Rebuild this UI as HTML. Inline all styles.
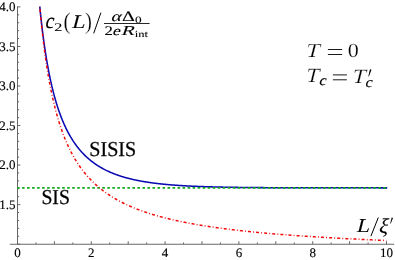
<!DOCTYPE html>
<html><head><meta charset="utf-8"><title>c2(L) plot</title><style>
html,body{margin:0;padding:0;background:#fff;}
body{width:395px;height:260px;position:relative;overflow:hidden;font-family:"Liberation Serif",serif;}
</style></head><body>
<svg width="395" height="260" viewBox="0 0 395 260" style="position:absolute;left:0;top:0;will-change:transform;text-rendering:geometricPrecision">
<g stroke="#686868" stroke-width="1" fill="none">
<path d="M9.8,244.25 H394.2"/>
<path d="M17.5,244.25 V6.4"/>
<path d="M17.50,244.25 v-3.0"/>
<path d="M35.95,244.25 v-1.8"/>
<path d="M54.40,244.25 v-3.0"/>
<path d="M72.85,244.25 v-1.8"/>
<path d="M91.30,244.25 v-3.0"/>
<path d="M109.75,244.25 v-1.8"/>
<path d="M128.20,244.25 v-3.0"/>
<path d="M146.65,244.25 v-1.8"/>
<path d="M165.10,244.25 v-3.0"/>
<path d="M183.55,244.25 v-1.8"/>
<path d="M202.00,244.25 v-3.0"/>
<path d="M220.45,244.25 v-1.8"/>
<path d="M238.90,244.25 v-3.0"/>
<path d="M257.35,244.25 v-1.8"/>
<path d="M275.80,244.25 v-3.0"/>
<path d="M294.25,244.25 v-1.8"/>
<path d="M312.70,244.25 v-3.0"/>
<path d="M331.15,244.25 v-1.8"/>
<path d="M349.60,244.25 v-3.0"/>
<path d="M368.05,244.25 v-1.8"/>
<path d="M386.50,244.25 v-3.0"/>
<path d="M17.5,244.15 h2.9"/>
<path d="M17.5,236.24 h1.7"/>
<path d="M17.5,228.33 h1.7"/>
<path d="M17.5,220.43 h1.7"/>
<path d="M17.5,212.52 h1.7"/>
<path d="M17.5,204.61 h2.9"/>
<path d="M17.5,196.70 h1.7"/>
<path d="M17.5,188.79 h1.7"/>
<path d="M17.5,180.89 h1.7"/>
<path d="M17.5,172.98 h1.7"/>
<path d="M17.5,165.07 h2.9"/>
<path d="M17.5,157.16 h1.7"/>
<path d="M17.5,149.25 h1.7"/>
<path d="M17.5,141.35 h1.7"/>
<path d="M17.5,133.44 h1.7"/>
<path d="M17.5,125.53 h2.9"/>
<path d="M17.5,117.62 h1.7"/>
<path d="M17.5,109.71 h1.7"/>
<path d="M17.5,101.81 h1.7"/>
<path d="M17.5,93.90 h1.7"/>
<path d="M17.5,85.99 h2.9"/>
<path d="M17.5,78.08 h1.7"/>
<path d="M17.5,70.17 h1.7"/>
<path d="M17.5,62.27 h1.7"/>
<path d="M17.5,54.36 h1.7"/>
<path d="M17.5,46.45 h2.9"/>
<path d="M17.5,38.54 h1.7"/>
<path d="M17.5,30.63 h1.7"/>
<path d="M17.5,22.73 h1.7"/>
<path d="M17.5,14.82 h1.7"/>
<path d="M17.5,6.91 h2.9"/>
</g>
<path d="M39.79,6.60 L39.89,7.61 L40.39,12.55 L40.89,17.29 L41.39,21.83 L41.90,26.19 L42.40,30.37 L42.90,34.38 L43.40,38.24 L43.91,41.96 L44.41,45.53 L44.91,48.97 L45.41,52.29 L45.92,55.49 L46.42,58.58 L46.92,61.57 L47.43,64.45 L47.93,67.23 L48.43,69.93 L48.93,72.53 L49.44,75.06 L49.94,77.50 L50.44,79.87 L50.94,82.17 L51.45,84.39 L51.95,86.55 L52.45,88.65 L52.95,90.68 L53.46,92.66 L53.96,94.58 L54.46,96.45 L54.96,98.27 L55.47,100.03 L55.97,101.75 L56.47,103.42 L56.98,105.05 L57.48,106.63 L57.98,108.18 L58.48,109.68 L58.99,111.15 L59.49,112.58 L59.99,113.97 L60.49,115.33 L61.00,116.65 L61.50,117.95 L62.00,119.21 L62.50,120.44 L63.01,121.65 L63.51,122.82 L64.01,123.97 L64.51,125.09 L65.02,126.19 L65.52,127.26 L66.02,128.31 L66.53,129.34 L67.03,130.34 L67.53,131.32 L68.03,132.28 L68.54,133.22 L69.04,134.14 L69.54,135.04 L70.04,135.92 L70.55,136.78 L71.05,137.62 L71.55,138.45 L72.05,139.26 L72.56,140.05 L73.06,140.83 L73.56,141.59 L74.06,142.34 L74.57,143.07 L75.07,143.79 L75.57,144.49 L76.08,145.18 L76.58,145.86 L77.08,146.52 L77.58,147.17 L78.09,147.81 L78.59,148.44 L79.09,149.05 L79.59,149.66 L80.10,150.25 L80.60,150.83 L81.10,151.40 L81.60,151.96 L82.11,152.51 L82.61,153.05 L83.11,153.58 L83.61,154.10 L84.12,154.61 L84.62,155.12 L85.12,155.61 L85.62,156.10 L86.13,156.57 L86.63,157.04 L87.13,157.50 L87.64,157.95 L88.14,158.40 L88.64,158.84 L89.14,159.27 L89.65,159.69 L90.15,160.10 L90.65,160.51 L91.15,160.91 L91.66,161.31 L92.16,161.70 L92.66,162.08 L93.16,162.45 L93.67,162.82 L94.17,163.19 L94.67,163.54 L95.17,163.89 L95.68,164.24 L96.18,164.58 L96.68,164.92 L97.19,165.25 L97.69,165.57 L98.19,165.89 L98.69,166.20 L99.20,166.51 L99.70,166.82 L100.20,167.12 L100.70,167.41 L101.21,167.70 L101.71,167.99 L102.21,168.27 L102.71,168.54 L103.22,168.82 L103.72,169.09 L104.22,169.35 L104.72,169.61 L105.23,169.87 L105.73,170.12 L106.23,170.37 L106.74,170.61 L107.24,170.85 L107.74,171.09 L108.24,171.32 L108.75,171.55 L109.25,171.78 L109.75,172.01 L110.25,172.23 L110.76,172.44 L111.26,172.66 L111.76,172.87 L112.26,173.07 L112.77,173.28 L113.27,173.48 L113.77,173.68 L114.27,173.87 L114.78,174.07 L115.28,174.26 L115.78,174.44 L116.29,174.63 L116.79,174.81 L117.29,174.99 L117.79,175.17 L118.30,175.34 L118.80,175.51 L119.30,175.68 L119.80,175.85 L120.31,176.01 L120.81,176.17 L121.31,176.33 L121.81,176.49 L122.32,176.64 L122.82,176.80 L123.32,176.95 L123.82,177.10 L124.33,177.24 L124.83,177.39 L125.33,177.53 L125.83,177.67 L126.34,177.81 L126.84,177.95 L127.34,178.08 L127.85,178.21 L128.35,178.34 L128.85,178.47 L129.35,178.60 L129.86,178.73 L130.36,178.85 L130.86,178.97 L131.36,179.09 L131.87,179.21 L132.37,179.33 L132.87,179.44 L133.37,179.56 L133.88,179.67 L134.38,179.78 L134.88,179.89 L135.38,180.00 L135.89,180.10 L136.39,180.21 L136.89,180.31 L137.40,180.41 L137.90,180.51 L138.40,180.61 L138.90,180.71 L139.41,180.81 L139.91,180.90 L140.41,180.99 L140.91,181.09 L141.42,181.18 L141.92,181.27 L142.42,181.36 L142.92,181.44 L143.43,181.53 L143.93,181.62 L144.43,181.70 L144.93,181.78 L145.44,181.86 L145.94,181.95 L146.44,182.02 L146.95,182.10 L147.45,182.18 L147.95,182.26 L148.45,182.33 L148.96,182.41 L149.46,182.48 L149.96,182.55 L150.46,182.62 L150.97,182.69 L151.47,182.76 L151.97,182.83 L152.47,182.90 L152.98,182.97 L153.48,183.03 L153.98,183.10 L154.48,183.16 L154.99,183.23 L155.49,183.29 L155.99,183.35 L156.50,183.41 L157.00,183.47 L157.50,183.53 L158.00,183.59 L158.51,183.65 L159.01,183.70 L159.51,183.76 L160.01,183.81 L160.52,183.87 L161.02,183.92 L161.52,183.98 L162.02,184.03 L162.53,184.08 L163.03,184.13 L163.53,184.18 L164.03,184.23 L164.54,184.28 L165.04,184.33 L165.54,184.38 L166.04,184.42 L166.55,184.47 L167.05,184.51 L167.55,184.56 L168.06,184.60 L168.56,184.65 L169.06,184.69 L169.56,184.74 L170.07,184.78 L170.57,184.82 L171.07,184.86 L171.57,184.90 L172.08,184.94 L172.58,184.98 L173.08,185.02 L173.58,185.06 L174.09,185.10 L174.59,185.13 L175.09,185.17 L175.59,185.21 L176.10,185.24 L176.60,185.28 L177.10,185.31 L177.61,185.35 L178.11,185.38 L178.61,185.42 L179.11,185.45 L179.62,185.48 L180.12,185.51 L180.62,185.55 L181.12,185.58 L181.63,185.61 L182.13,185.64 L182.63,185.67 L183.13,185.70 L183.64,185.73 L184.14,185.76 L184.64,185.79 L185.14,185.82 L185.65,185.84 L186.15,185.87 L186.65,185.90 L187.16,185.93 L187.66,185.95 L188.16,185.98 L188.66,186.00 L189.17,186.03 L189.67,186.05 L190.17,186.08 L190.67,186.10 L191.18,186.13 L191.68,186.15 L192.18,186.17 L192.68,186.20 L193.19,186.22 L193.69,186.24 L194.19,186.27 L194.69,186.29 L195.20,186.31 L195.70,186.33 L196.20,186.35 L196.71,186.37 L197.21,186.39 L197.71,186.41 L198.21,186.43 L198.72,186.45 L199.22,186.47 L199.72,186.49 L200.22,186.51 L200.73,186.53 L201.23,186.55 L201.73,186.57 L202.23,186.58 L202.74,186.60 L203.24,186.62 L203.74,186.64 L204.24,186.65 L204.75,186.67 L205.25,186.69 L205.75,186.70 L206.25,186.72 L206.76,186.73 L207.26,186.75 L207.76,186.76 L208.27,186.78 L208.77,186.80 L209.27,186.81 L209.77,186.82 L210.28,186.84 L210.78,186.85 L211.28,186.87 L211.78,186.88 L212.29,186.89 L212.79,186.91 L213.29,186.92 L213.79,186.93 L214.30,186.95 L214.80,186.96 L215.30,186.97 L215.80,186.99 L216.31,187.00 L216.81,187.01 L217.31,187.02 L217.82,187.03 L218.32,187.04 L218.82,187.06 L219.32,187.07 L219.83,187.08 L220.33,187.09 L220.83,187.10 L221.33,187.11 L221.84,187.12 L222.34,187.13 L222.84,187.14 L223.34,187.15 L223.85,187.16 L224.35,187.17 L224.85,187.18 L225.35,187.19 L225.86,187.20 L226.36,187.21 L226.86,187.22 L227.37,187.23 L227.87,187.24 L228.37,187.25 L228.87,187.25 L229.38,187.26 L229.88,187.27 L230.38,187.28 L230.88,187.29 L231.39,187.30 L231.89,187.30 L232.39,187.31 L232.89,187.32 L233.40,187.33 L233.90,187.34 L234.40,187.34 L234.90,187.35 L235.41,187.36 L235.91,187.36 L236.41,187.37 L236.92,187.38 L237.42,187.39 L237.92,187.39 L238.42,187.40 L238.93,187.41 L239.43,187.41 L239.93,187.42 L240.43,187.42 L240.94,187.43 L241.44,187.44 L241.94,187.44 L242.44,187.45 L242.95,187.45 L243.45,187.46 L243.95,187.47 L244.45,187.47 L244.96,187.48 L245.46,187.48 L245.96,187.49 L246.46,187.49 L246.97,187.50 L247.47,187.50 L247.97,187.51 L248.48,187.51 L248.98,187.52 L249.48,187.52 L249.98,187.53 L250.49,187.53 L250.99,187.54 L251.49,187.54 L251.99,187.55 L252.50,187.55 L253.00,187.56 L253.50,187.56 L254.00,187.56 L254.51,187.57 L255.01,187.57 L255.51,187.58 L256.01,187.58 L256.52,187.59 L257.02,187.59 L257.52,187.59 L258.03,187.60 L258.53,187.60 L259.03,187.60 L259.53,187.61 L260.04,187.61 L260.54,187.62 L261.04,187.62 L261.54,187.62 L262.05,187.63 L262.55,187.63 L263.05,187.63 L263.55,187.64 L264.06,187.64 L264.56,187.64 L265.06,187.65 L265.56,187.65 L266.07,187.65 L266.57,187.65 L267.07,187.66 L267.58,187.66 L268.08,187.66 L268.58,187.67 L269.08,187.67 L269.59,187.67 L270.09,187.67 L270.59,187.68 L271.09,187.68 L271.60,187.68 L272.10,187.68 L272.60,187.69 L273.10,187.69 L273.61,187.69 L274.11,187.69 L274.61,187.70 L275.11,187.70 L275.62,187.70 L276.12,187.70 L276.62,187.71 L277.13,187.71 L277.63,187.71 L278.13,187.71 L278.63,187.71 L279.14,187.72 L279.64,187.72 L280.14,187.72 L280.64,187.72 L281.15,187.72 L281.65,187.73 L282.15,187.73 L282.65,187.73 L283.16,187.73 L283.66,187.73 L284.16,187.74 L284.66,187.74 L285.17,187.74 L285.67,187.74 L286.17,187.74 L286.67,187.74 L287.18,187.75 L287.68,187.75 L288.18,187.75 L288.69,187.75 L289.19,187.75 L289.69,187.75 L290.19,187.76 L290.70,187.76 L291.20,187.76 L291.70,187.76 L292.20,187.76 L292.71,187.76 L293.21,187.76 L293.71,187.77 L294.21,187.77 L294.72,187.77 L295.22,187.77 L295.72,187.77 L296.22,187.77 L296.73,187.77 L297.23,187.77 L297.73,187.78 L298.24,187.78 L298.74,187.78 L299.24,187.78 L299.74,187.78 L300.25,187.78 L300.75,187.78 L301.25,187.78 L301.75,187.78 L302.26,187.79 L302.76,187.79 L303.26,187.79 L303.76,187.79 L304.27,187.79 L304.77,187.79 L305.27,187.79 L305.77,187.79 L306.28,187.79 L306.78,187.79 L307.28,187.79 L307.79,187.80 L308.29,187.80 L308.79,187.80 L309.29,187.80 L309.80,187.80 L310.30,187.80 L310.80,187.80 L311.30,187.80 L311.81,187.80 L312.31,187.80 L312.81,187.80 L313.31,187.80 L313.82,187.81 L314.32,187.81 L314.82,187.81 L315.32,187.81 L315.83,187.81 L316.33,187.81 L316.83,187.81 L317.34,187.81 L317.84,187.81 L318.34,187.81 L318.84,187.81 L319.35,187.81 L319.85,187.81 L320.35,187.81 L320.85,187.81 L321.36,187.82 L321.86,187.82 L322.36,187.82 L322.86,187.82 L323.37,187.82 L323.87,187.82 L324.37,187.82 L324.87,187.82 L325.38,187.82 L325.88,187.82 L326.38,187.82 L326.88,187.82 L327.39,187.82 L327.89,187.82 L328.39,187.82 L328.90,187.82 L329.40,187.82 L329.90,187.82 L330.40,187.82 L330.91,187.82 L331.41,187.82 L331.91,187.83 L332.41,187.83 L332.92,187.83 L333.42,187.83 L333.92,187.83 L334.42,187.83 L334.93,187.83 L335.43,187.83 L335.93,187.83 L336.43,187.83 L336.94,187.83 L337.44,187.83 L337.94,187.83 L338.45,187.83 L338.95,187.83 L339.45,187.83 L339.95,187.83 L340.46,187.83 L340.96,187.83 L341.46,187.83 L341.96,187.83 L342.47,187.83 L342.97,187.83 L343.47,187.83 L343.97,187.83 L344.48,187.83 L344.98,187.83 L345.48,187.83 L345.98,187.83 L346.49,187.83 L346.99,187.84 L347.49,187.84 L348.00,187.84 L348.50,187.84 L349.00,187.84 L349.50,187.84 L350.01,187.84 L350.51,187.84 L351.01,187.84 L351.51,187.84 L352.02,187.84 L352.52,187.84 L353.02,187.84 L353.52,187.84 L354.03,187.84 L354.53,187.84 L355.03,187.84 L355.53,187.84 L356.04,187.84 L356.54,187.84 L357.04,187.84 L357.55,187.84 L358.05,187.84 L358.55,187.84 L359.05,187.84 L359.56,187.84 L360.06,187.84 L360.56,187.84 L361.06,187.84 L361.57,187.84 L362.07,187.84 L362.57,187.84 L363.07,187.84 L363.58,187.84 L364.08,187.84 L364.58,187.84 L365.08,187.84 L365.59,187.84 L366.09,187.84 L366.59,187.84 L367.09,187.84 L367.60,187.84 L368.10,187.84 L368.60,187.84 L369.11,187.84 L369.61,187.84 L370.11,187.84 L370.61,187.84 L371.12,187.84 L371.62,187.84 L372.12,187.84 L372.62,187.84 L373.13,187.84 L373.63,187.84 L374.13,187.84 L374.63,187.84 L375.14,187.84 L375.64,187.84 L376.14,187.84 L376.64,187.84 L377.15,187.84 L377.65,187.84 L378.15,187.84 L378.66,187.85 L379.16,187.85 L379.66,187.85 L380.16,187.85 L380.67,187.85 L381.17,187.85 L381.67,187.85 L382.17,187.85 L382.68,187.85 L383.18,187.85 L383.68,187.85 L384.18,187.85 L384.69,187.85 L385.19,187.85 L385.69,187.85 L386.19,187.85 L386.70,187.85 L387.20,187.85" stroke="#0a0ab4" stroke-width="1.55" fill="none"/>
<path d="M17.0,187.9 H387.2" stroke="#14aa1e" stroke-width="1.6" stroke-dasharray="2.6 2.417" fill="none"/>
<path d="M39.73,6.60 L39.88,8.28 L40.38,13.67 L40.88,18.84 L41.38,23.79 L41.88,28.53 L42.38,33.09 L42.88,37.47 L43.39,41.67 L43.89,45.72 L44.39,49.62 L44.89,53.38 L45.39,57.00 L45.89,60.49 L46.39,63.86 L46.90,67.12 L47.40,70.27 L47.90,73.32 L48.40,76.27 L48.90,79.12 L49.40,81.88 L49.90,84.56 L50.41,87.16 L50.91,89.68 L51.41,92.12 L51.91,94.50 L52.41,96.81 L52.91,99.05 L53.41,101.23 L53.92,103.34 L54.42,105.41 L54.92,107.41 L55.42,109.37 L55.92,111.27 L56.42,113.12 L56.92,114.93 L57.43,116.69 L57.93,118.41 L58.43,120.08 L58.93,121.72 L59.43,123.32 L59.93,124.88 L60.43,126.40 L60.94,127.89 L61.44,129.34 L61.94,130.76 L62.44,132.15 L62.94,133.51 L63.44,134.84 L63.94,136.14 L64.45,137.41 L64.95,138.66 L65.45,139.88 L65.95,141.07 L66.45,142.24 L66.95,143.39 L67.45,144.51 L67.96,145.61 L68.46,146.69 L68.96,147.75 L69.46,148.79 L69.96,149.81 L70.46,150.81 L70.96,151.79 L71.47,152.75 L71.97,153.69 L72.47,154.62 L72.97,155.53 L73.47,156.43 L73.97,157.30 L74.47,158.17 L74.97,159.01 L75.48,159.85 L75.98,160.67 L76.48,161.47 L76.98,162.26 L77.48,163.04 L77.98,163.81 L78.48,164.56 L78.99,165.30 L79.49,166.03 L79.99,166.75 L80.49,167.45 L80.99,168.15 L81.49,168.83 L81.99,169.50 L82.50,170.17 L83.00,170.82 L83.50,171.46 L84.00,172.10 L84.50,172.72 L85.00,173.33 L85.50,173.94 L86.01,174.54 L86.51,175.12 L87.01,175.70 L87.51,176.27 L88.01,176.84 L88.51,177.39 L89.01,177.94 L89.52,178.48 L90.02,179.01 L90.52,179.54 L91.02,180.05 L91.52,180.56 L92.02,181.07 L92.52,181.56 L93.03,182.05 L93.53,182.54 L94.03,183.02 L94.53,183.49 L95.03,183.95 L95.53,184.41 L96.03,184.87 L96.54,185.31 L97.04,185.76 L97.54,186.19 L98.04,186.62 L98.54,187.05 L99.04,187.47 L99.54,187.89 L100.05,188.30 L100.55,188.70 L101.05,189.10 L101.55,189.50 L102.05,189.89 L102.55,190.28 L103.05,190.66 L103.56,191.04 L104.06,191.41 L104.56,191.78 L105.06,192.14 L105.56,192.50 L106.06,192.86 L106.56,193.21 L107.07,193.56 L107.57,193.91 L108.07,194.25 L108.57,194.58 L109.07,194.92 L109.57,195.25 L110.07,195.57 L110.57,195.90 L111.08,196.22 L111.58,196.53 L112.08,196.84 L112.58,197.15 L113.08,197.46 L113.58,197.76 L114.08,198.06 L114.59,198.36 L115.09,198.65 L115.59,198.94 L116.09,199.23 L116.59,199.51 L117.09,199.80 L117.59,200.08 L118.10,200.35 L118.60,200.63 L119.10,200.90 L119.60,201.16 L120.10,201.43 L120.60,201.69 L121.10,201.95 L121.61,202.21 L122.11,202.47 L122.61,202.72 L123.11,202.97 L123.61,203.22 L124.11,203.46 L124.61,203.71 L125.12,203.95 L125.62,204.19 L126.12,204.42 L126.62,204.66 L127.12,204.89 L127.62,205.12 L128.12,205.35 L128.63,205.58 L129.13,205.80 L129.63,206.02 L130.13,206.24 L130.63,206.46 L131.13,206.68 L131.63,206.89 L132.14,207.11 L132.64,207.32 L133.14,207.52 L133.64,207.73 L134.14,207.94 L134.64,208.14 L135.14,208.34 L135.65,208.54 L136.15,208.74 L136.65,208.94 L137.15,209.13 L137.65,209.33 L138.15,209.52 L138.65,209.71 L139.16,209.90 L139.66,210.09 L140.16,210.27 L140.66,210.45 L141.16,210.64 L141.66,210.82 L142.16,211.00 L142.67,211.18 L143.17,211.35 L143.67,211.53 L144.17,211.70 L144.67,211.88 L145.17,212.05 L145.67,212.22 L146.18,212.39 L146.68,212.55 L147.18,212.72 L147.68,212.88 L148.18,213.05 L148.68,213.21 L149.18,213.37 L149.68,213.53 L150.19,213.69 L150.69,213.85 L151.19,214.00 L151.69,214.16 L152.19,214.31 L152.69,214.47 L153.19,214.62 L153.70,214.77 L154.20,214.92 L154.70,215.07 L155.20,215.21 L155.70,215.36 L156.20,215.50 L156.70,215.65 L157.21,215.79 L157.71,215.93 L158.21,216.07 L158.71,216.21 L159.21,216.35 L159.71,216.49 L160.21,216.63 L160.72,216.76 L161.22,216.90 L161.72,217.03 L162.22,217.17 L162.72,217.30 L163.22,217.43 L163.72,217.56 L164.23,217.69 L164.73,217.82 L165.23,217.95 L165.73,218.08 L166.23,218.20 L166.73,218.33 L167.23,218.45 L167.74,218.58 L168.24,218.70 L168.74,218.82 L169.24,218.94 L169.74,219.06 L170.24,219.18 L170.74,219.30 L171.25,219.42 L171.75,219.54 L172.25,219.65 L172.75,219.77 L173.25,219.88 L173.75,220.00 L174.25,220.11 L174.76,220.22 L175.26,220.34 L175.76,220.45 L176.26,220.56 L176.76,220.67 L177.26,220.78 L177.76,220.89 L178.27,221.00 L178.77,221.10 L179.27,221.21 L179.77,221.32 L180.27,221.42 L180.77,221.53 L181.27,221.63 L181.78,221.73 L182.28,221.84 L182.78,221.94 L183.28,222.04 L183.78,222.14 L184.28,222.24 L184.78,222.34 L185.28,222.44 L185.79,222.54 L186.29,222.64 L186.79,222.73 L187.29,222.83 L187.79,222.93 L188.29,223.02 L188.79,223.12 L189.30,223.21 L189.80,223.31 L190.30,223.40 L190.80,223.49 L191.30,223.59 L191.80,223.68 L192.30,223.77 L192.81,223.86 L193.31,223.95 L193.81,224.04 L194.31,224.13 L194.81,224.22 L195.31,224.31 L195.81,224.39 L196.32,224.48 L196.82,224.57 L197.32,224.65 L197.82,224.74 L198.32,224.83 L198.82,224.91 L199.32,224.99 L199.83,225.08 L200.33,225.16 L200.83,225.25 L201.33,225.33 L201.83,225.41 L202.33,225.49 L202.83,225.57 L203.34,225.65 L203.84,225.73 L204.34,225.81 L204.84,225.89 L205.34,225.97 L205.84,226.05 L206.34,226.13 L206.85,226.21 L207.35,226.29 L207.85,226.36 L208.35,226.44 L208.85,226.51 L209.35,226.59 L209.85,226.67 L210.36,226.74 L210.86,226.82 L211.36,226.89 L211.86,226.96 L212.36,227.04 L212.86,227.11 L213.36,227.18 L213.87,227.26 L214.37,227.33 L214.87,227.40 L215.37,227.47 L215.87,227.54 L216.37,227.61 L216.87,227.68 L217.38,227.75 L217.88,227.82 L218.38,227.89 L218.88,227.96 L219.38,228.03 L219.88,228.10 L220.38,228.16 L220.88,228.23 L221.39,228.30 L221.89,228.37 L222.39,228.43 L222.89,228.50 L223.39,228.56 L223.89,228.63 L224.39,228.69 L224.90,228.76 L225.40,228.82 L225.90,228.89 L226.40,228.95 L226.90,229.02 L227.40,229.08 L227.90,229.14 L228.41,229.21 L228.91,229.27 L229.41,229.33 L229.91,229.39 L230.41,229.45 L230.91,229.51 L231.41,229.58 L231.92,229.64 L232.42,229.70 L232.92,229.76 L233.42,229.82 L233.92,229.88 L234.42,229.94 L234.92,229.99 L235.43,230.05 L235.93,230.11 L236.43,230.17 L236.93,230.23 L237.43,230.29 L237.93,230.34 L238.43,230.40 L238.94,230.46 L239.44,230.51 L239.94,230.57 L240.44,230.63 L240.94,230.68 L241.44,230.74 L241.94,230.79 L242.45,230.85 L242.95,230.90 L243.45,230.96 L243.95,231.01 L244.45,231.07 L244.95,231.12 L245.45,231.17 L245.96,231.23 L246.46,231.28 L246.96,231.33 L247.46,231.39 L247.96,231.44 L248.46,231.49 L248.96,231.54 L249.47,231.60 L249.97,231.65 L250.47,231.70 L250.97,231.75 L251.47,231.80 L251.97,231.85 L252.47,231.90 L252.98,231.95 L253.48,232.00 L253.98,232.05 L254.48,232.10 L254.98,232.15 L255.48,232.20 L255.98,232.25 L256.49,232.30 L256.99,232.35 L257.49,232.40 L257.99,232.44 L258.49,232.49 L258.99,232.54 L259.49,232.59 L259.99,232.63 L260.50,232.68 L261.00,232.73 L261.50,232.78 L262.00,232.82 L262.50,232.87 L263.00,232.92 L263.50,232.96 L264.01,233.01 L264.51,233.05 L265.01,233.10 L265.51,233.14 L266.01,233.19 L266.51,233.23 L267.01,233.28 L267.52,233.32 L268.02,233.37 L268.52,233.41 L269.02,233.46 L269.52,233.50 L270.02,233.54 L270.52,233.59 L271.03,233.63 L271.53,233.67 L272.03,233.72 L272.53,233.76 L273.03,233.80 L273.53,233.85 L274.03,233.89 L274.54,233.93 L275.04,233.97 L275.54,234.01 L276.04,234.06 L276.54,234.10 L277.04,234.14 L277.54,234.18 L278.05,234.22 L278.55,234.26 L279.05,234.30 L279.55,234.34 L280.05,234.38 L280.55,234.42 L281.05,234.46 L281.56,234.50 L282.06,234.54 L282.56,234.58 L283.06,234.62 L283.56,234.66 L284.06,234.70 L284.56,234.74 L285.07,234.78 L285.57,234.82 L286.07,234.86 L286.57,234.90 L287.07,234.94 L287.57,234.97 L288.07,235.01 L288.58,235.05 L289.08,235.09 L289.58,235.12 L290.08,235.16 L290.58,235.20 L291.08,235.24 L291.58,235.27 L292.09,235.31 L292.59,235.35 L293.09,235.38 L293.59,235.42 L294.09,235.46 L294.59,235.49 L295.09,235.53 L295.59,235.57 L296.10,235.60 L296.60,235.64 L297.10,235.67 L297.60,235.71 L298.10,235.74 L298.60,235.78 L299.10,235.82 L299.61,235.85 L300.11,235.89 L300.61,235.92 L301.11,235.95 L301.61,235.99 L302.11,236.02 L302.61,236.06 L303.12,236.09 L303.62,236.13 L304.12,236.16 L304.62,236.19 L305.12,236.23 L305.62,236.26 L306.12,236.30 L306.63,236.33 L307.13,236.36 L307.63,236.39 L308.13,236.43 L308.63,236.46 L309.13,236.49 L309.63,236.53 L310.14,236.56 L310.64,236.59 L311.14,236.62 L311.64,236.66 L312.14,236.69 L312.64,236.72 L313.14,236.75 L313.65,236.78 L314.15,236.82 L314.65,236.85 L315.15,236.88 L315.65,236.91 L316.15,236.94 L316.65,236.97 L317.16,237.00 L317.66,237.03 L318.16,237.07 L318.66,237.10 L319.16,237.13 L319.66,237.16 L320.16,237.19 L320.67,237.22 L321.17,237.25 L321.67,237.28 L322.17,237.31 L322.67,237.34 L323.17,237.37 L323.67,237.40 L324.18,237.43 L324.68,237.46 L325.18,237.49 L325.68,237.52 L326.18,237.55 L326.68,237.57 L327.18,237.60 L327.69,237.63 L328.19,237.66 L328.69,237.69 L329.19,237.72 L329.69,237.75 L330.19,237.78 L330.69,237.80 L331.19,237.83 L331.70,237.86 L332.20,237.89 L332.70,237.92 L333.20,237.95 L333.70,237.97 L334.20,238.00 L334.70,238.03 L335.21,238.06 L335.71,238.08 L336.21,238.11 L336.71,238.14 L337.21,238.17 L337.71,238.19 L338.21,238.22 L338.72,238.25 L339.22,238.27 L339.72,238.30 L340.22,238.33 L340.72,238.35 L341.22,238.38 L341.72,238.41 L342.23,238.43 L342.73,238.46 L343.23,238.49 L343.73,238.51 L344.23,238.54 L344.73,238.57 L345.23,238.59 L345.74,238.62 L346.24,238.64 L346.74,238.67 L347.24,238.69 L347.74,238.72 L348.24,238.75 L348.74,238.77 L349.25,238.80 L349.75,238.82 L350.25,238.85 L350.75,238.87 L351.25,238.90 L351.75,238.92 L352.25,238.95 L352.76,238.97 L353.26,239.00 L353.76,239.02 L354.26,239.05 L354.76,239.07 L355.26,239.09 L355.76,239.12 L356.27,239.14 L356.77,239.17 L357.27,239.19 L357.77,239.22 L358.27,239.24 L358.77,239.26 L359.27,239.29 L359.78,239.31 L360.28,239.34 L360.78,239.36 L361.28,239.38 L361.78,239.41 L362.28,239.43 L362.78,239.45 L363.29,239.48 L363.79,239.50 L364.29,239.52 L364.79,239.55 L365.29,239.57 L365.79,239.59 L366.29,239.61 L366.80,239.64 L367.30,239.66 L367.80,239.68 L368.30,239.71 L368.80,239.73 L369.30,239.75 L369.80,239.77 L370.30,239.80 L370.81,239.82 L371.31,239.84 L371.81,239.86 L372.31,239.88 L372.81,239.91 L373.31,239.93 L373.81,239.95 L374.32,239.97 L374.82,239.99 L375.32,240.02 L375.82,240.04 L376.32,240.06 L376.82,240.08 L377.32,240.10 L377.83,240.12 L378.33,240.15 L378.83,240.17 L379.33,240.19 L379.83,240.21 L380.33,240.23 L380.83,240.25 L381.34,240.27 L381.84,240.29 L382.34,240.32 L382.84,240.34 L383.34,240.36 L383.84,240.38 L384.34,240.40 L384.85,240.42 L385.35,240.44 L385.85,240.46 L386.35,240.48" stroke="#f20a0a" stroke-width="1.5" stroke-dasharray="3.0 2.15 0.9 2.086" stroke-dashoffset="5.55" fill="none"/>
<g font-family="Liberation Serif, serif" font-size="13" fill="#000" stroke="#000" stroke-width="0.15">
<text x="15.5" y="11.1" text-anchor="end">4.0</text>
<text x="15.5" y="50.7" text-anchor="end">3.5</text>
<text x="15.5" y="90.2" text-anchor="end">3.0</text>
<text x="15.5" y="129.7" text-anchor="end">2.5</text>
<text x="15.5" y="169.3" text-anchor="end">2.0</text>
<text x="15.5" y="208.8" text-anchor="end">1.5</text>
<text x="17.5" y="257.2" text-anchor="middle">0</text>
<text x="91.3" y="257.2" text-anchor="middle">2</text>
<text x="165.1" y="257.2" text-anchor="middle">4</text>
<text x="238.9" y="257.2" text-anchor="middle">6</text>
<text x="312.7" y="257.2" text-anchor="middle">8</text>
<text x="386.5" y="257.2" text-anchor="middle">10</text>
</g>
<g font-family="Liberation Serif, serif" fill="#000">
<text transform="translate(89.3,155.8) scale(1.02,1.075)" font-size="19.7" stroke="#000" stroke-width="0.25">SISIS</text>
<text transform="translate(41.4,204) scale(1,1.075)" font-size="19.7" stroke="#000" stroke-width="0.25">SIS</text>
</g>
<g font-family="Liberation Serif, serif" fill="#000" font-size="100">
<text transform="translate(44.44,28.48) scale(0.1952,0.2167) skewX(-13)" stroke="#000" stroke-width="0.6">c</text>
<text transform="translate(54.35,31.2) scale(0.1625,0.1169) rotate(0.03)" stroke="#000" stroke-width="0.8">2</text>
<text transform="translate(63.55,28.93) scale(0.2115,0.2367) rotate(0.03)" stroke="#fff" stroke-width="1.0" paint-order="fill">(</text>
<text transform="translate(71.24,28.0) scale(0.2214,0.1938) skewX(-13)" stroke="#000" stroke-width="0.6">L</text>
<text transform="translate(85.08,28.93) scale(0.2077,0.2367) rotate(0.03)" stroke="#fff" stroke-width="1.0" paint-order="fill">)</text>
<text transform="translate(110.56,21.16) scale(0.1925,0.1438) skewX(-13)" stroke="#000" stroke-width="0.8">α</text>
<text transform="translate(122.1,21.0) scale(0.2,0.1424) rotate(0.03)" stroke="#000" stroke-width="0.8">Δ</text>
<text transform="translate(135.07,23.01) scale(0.1333,0.0955) rotate(0.03)" stroke="#000" stroke-width="0.8">0</text>
<text transform="translate(104.53,35.0) scale(0.1675,0.1323) rotate(0.03)" stroke="#000" stroke-width="0.8">2</text>
<text transform="translate(112.0,35.07) scale(0.175,0.1313) skewX(-13)" stroke="#000" stroke-width="0.8">e</text>
<text transform="translate(120.79,35.1) scale(0.2016,0.1369) skewX(-13)" stroke="#000" stroke-width="0.8">R</text>
<text transform="translate(134.65,37.01) scale(0.1262,0.0924) rotate(0.03)" stroke="#000" stroke-width="0.8">int</text>
<text transform="translate(304.92,57.2) scale(0.2213,0.1969) skewX(-13)" stroke="#fff" stroke-width="1.0" paint-order="fill">T</text>
<text transform="translate(347.71,57.3) scale(0.2214,0.2015) rotate(0.03)" stroke="#fff" stroke-width="1.0" paint-order="fill">0</text>
<text transform="translate(305.11,82.4) scale(0.2148,0.2015) skewX(-13)" stroke="#fff" stroke-width="1.0" paint-order="fill">T</text>
<text transform="translate(318.42,85.46) scale(0.1595,0.1417) skewX(-13)" stroke="#000" stroke-width="0.8">c</text>
<text transform="translate(351.41,82.5) scale(0.2148,0.2031) skewX(-13)" stroke="#fff" stroke-width="1.0" paint-order="fill">T</text>
<text transform="translate(364.86,87.45) scale(0.1548,0.1458) skewX(-13)" stroke="#000" stroke-width="0.8">c</text>
<text transform="translate(356.05,231.6) scale(0.2179,0.1969) skewX(-13)" stroke="#000" stroke-width="0.6">L</text>
<text transform="translate(378.27,233.0) scale(0.2043,0.2115) skewX(-13)" stroke="#000" stroke-width="0.6">ξ</text>
</g>
<g stroke="#000" fill="none" stroke-linecap="butt">
<path d="M93.7,33.4 L100.9,12.7" stroke-width="1"/>
<path d="M370.9,236.2 L378.3,217.5" stroke-width="1"/>
<path d="M104,23.5 H149.6" stroke-width="0.85"/>
<path d="M327.9,49.5 H342.2 M327.9,54.5 H342.2" stroke-width="0.9"/>
<path d="M332.9,74.9 H346.9 M332.9,79.8 H346.9" stroke-width="0.9"/>
</g>
<path d="M370.0,69.2 L371.5,69.8 L368.9,76.4 L368.3,76.2 Z" fill="#000"/>
<path d="M391.7,217.4 L393.0,217.9 L390.8,223.6 L390.2,223.4 Z" fill="#000"/>
</svg>
</body></html>
